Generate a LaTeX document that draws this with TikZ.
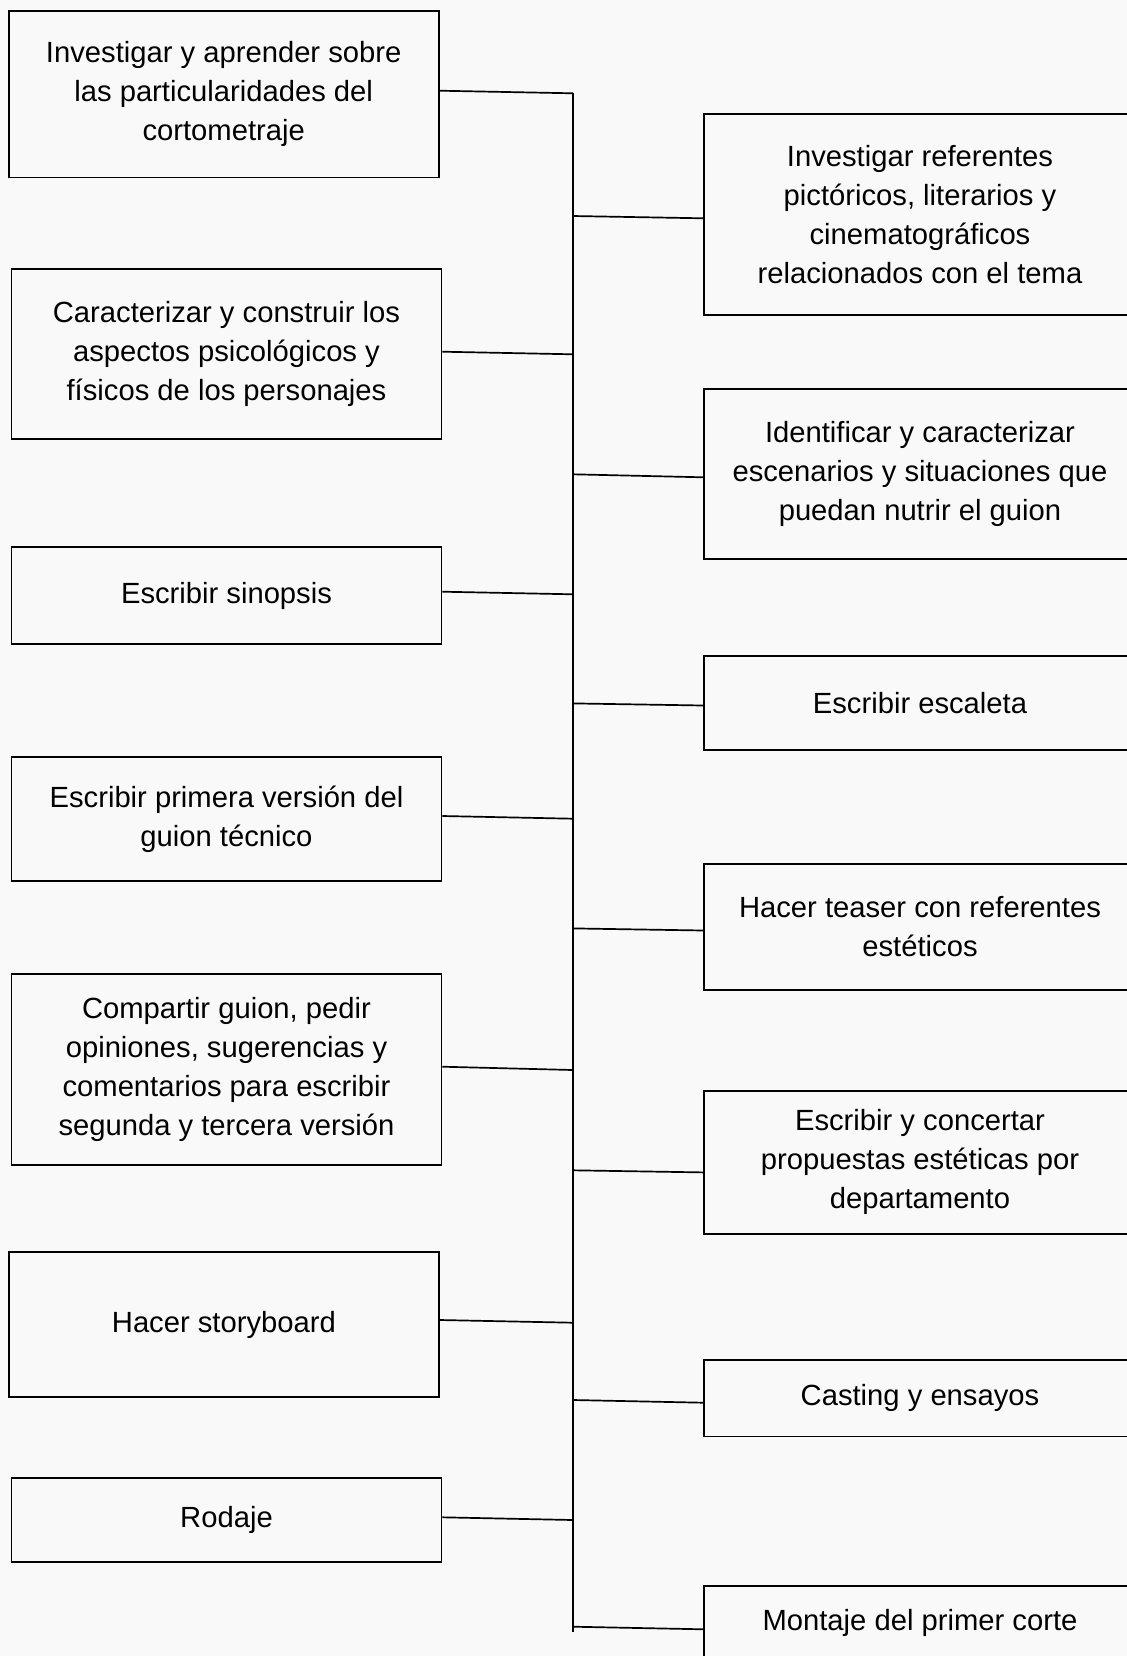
\documentclass[tikz,border=0pt]{standalone}
\usepackage{fontspec}
\setmainfont{Liberation Sans}
\definecolor{bg}{RGB}{249,249,249}
\begin{document}
\begin{tikzpicture}[x=0.5pt,y=-0.5pt,
  box/.style={draw=black, line width=0.9pt, fill=bg, align=center,
    font=\fontsize{14.6}{19.5}\selectfont, inner sep=0pt, text=black},
  lbox/.style={box, minimum width=215pt},
  rbox/.style={box, minimum width=215.75pt},
  link/.style={line width=0.85pt, draw=black}]
\fill[bg] (0,0) rectangle (1127,1656);
\useasboundingbox (0,0) rectangle (1127,1656);
\clip (0,0) rectangle (1127,1656);

% left column
\node[lbox, minimum height=83.4pt] (L1) at (223.7,94) {Investigar y aprender sobre\\las particularidades del\\cortometraje};
\node[lbox, minimum height=85pt] (L2) at (226.5,354.3) {Caracterizar y construir los\\aspectos psicológicos y\\físicos de los personajes};
\node[lbox, minimum height=48.5pt] (L3) at (226.5,595.5) {Escribir sinopsis};
\node[lbox, minimum height=62pt] (L4) at (226.5,819) {Escribir primera versión del\\guion técnico};
\node[lbox, minimum height=95.6pt] (L5) at (226.5,1069.4) {Compartir guion, pedir\\opiniones, sugerencias y\\comentarios para escribir\\segunda y tercera versión};
\node[lbox, minimum height=72.8pt] (L6) at (223.9,1324.5) {Hacer storyboard};
\node[lbox, minimum height=42.2pt] (L7) at (226.5,1519.8) {Rodaje};

% right column
\node[rbox, minimum height=100.3pt] (R1) at (920,214.4) {Investigar referentes\\pictóricos, literarios y\\cinematográficos\\relacionados con el tema};
\node[rbox, minimum height=85pt] (R2) at (920,473.7) {Identificar y caracterizar\\escenarios y situaciones que\\puedan nutrir el guion};
\node[rbox, minimum height=47pt] (R3) at (920,703) {Escribir escaleta};
\node[rbox, minimum height=62.8pt] (R4) at (920,926.9) {Hacer teaser con referentes\\estéticos};
\node[rbox, minimum height=71.3pt] (R5) at (920,1162.3) {Escribir y concertar\\propuestas estéticas por\\departamento};
\node[rbox, minimum height=38.2pt] (R6) at (920,1398.2) {Casting y ensayos};
\node[rbox, minimum height=37pt] (R7) at (920,1623) {Montaje del primer corte};

% trunk
\coordinate (ttop) at (573,93);
\coordinate (tbot) at (573,1632);
\draw[link] (ttop) -- (tbot);

% trunk junctions
\coordinate (tL1) at (573,93.3);
\coordinate (tL2) at (573,354.3);
\coordinate (tL3) at (573,594.3);
\coordinate (tL4) at (573,818.7);
\coordinate (tL5) at (573,1070);
\coordinate (tL6) at (573,1322.7);
\coordinate (tL7) at (573,1520);
\coordinate (tR1) at (573,216);
\coordinate (tR2) at (573,474.3);
\coordinate (tR3) at (573,703.4);
\coordinate (tR4) at (573,928.4);
\coordinate (tR5) at (573,1170.3);
\coordinate (tR6) at (573,1400);
\coordinate (tR7) at (573,1626.7);

% left connectors
\draw[link] ([yshift=1.65pt]L1.east) -- (tL1);
\draw[link] ([yshift=1.3pt]L2.east) -- (tL2);
\draw[link] ([yshift=1.9pt]L3.east) -- (tL3);
\draw[link] ([yshift=1.5pt]L4.east) -- (tL4);
\draw[link] ([yshift=1.35pt]L5.east) -- (tL5);
\draw[link] ([yshift=2.25pt]L6.east) -- (tL6);
\draw[link] ([yshift=1.25pt]L7.east) -- (tL7);

% right connectors
\draw[link] (tR1) -- ([yshift=-1.95pt]R1.west);
\draw[link] (tR2) -- ([yshift=-1.8pt]R2.west);
\draw[link] (tR3) -- ([yshift=-1.25pt]R3.west);
\draw[link] (tR4) -- ([yshift=-1.8pt]R4.west);
\draw[link] (tR5) -- ([yshift=-5.05pt]R5.west);
\draw[link] (tR6) -- ([yshift=-2.25pt]R6.west);
\draw[link] (tR7) -- ([yshift=-3.15pt]R7.west);
\end{tikzpicture}
\end{document}
